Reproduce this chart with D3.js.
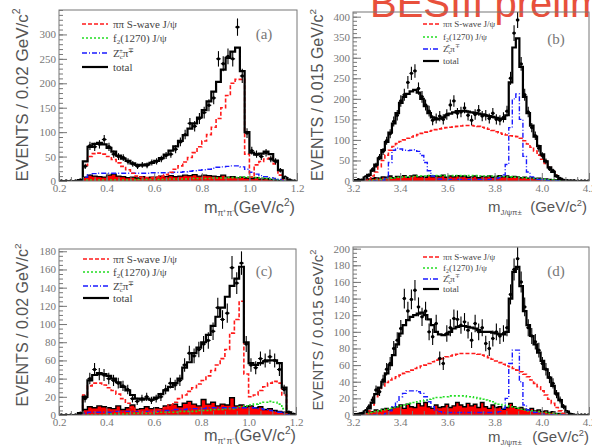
<!DOCTYPE html>
<html>
<head>
<meta charset="utf-8">
<script src="https://cdn.jsdelivr.net/npm/d3@7"></script>
<style>
  html, body { margin: 0; padding: 0; background: #fff; }
  svg { display: block; }
</style>
</head>
<body>
<svg id="chart" width="592" height="448"></svg>
<script>
// ---- binning ----
const pipiStart = 0.2, pipiWidth = 0.02;     // m(pi+pi-) histograms, 0.02 GeV bins
const jpsiStart = 3.2, jpsiWidth = 0.015;    // m(J/psi pi) histograms, 0.015 GeV bins

// ---- tick labels ----
const pipiTicks = [0.2, 0.4, 0.6, 0.8, 1.0, 1.2];
const jpsiTicks = [3.2, 3.4, 3.6, 3.8, 4.0, 4.2];
const yTicksA = [0, 50, 100, 150, 200, 250, 300];
const yTicksB = [0, 50, 100, 150, 200, 250, 300, 350, 400];
const yTicksC = [0, 20, 40, 60, 80, 100, 120, 140, 160, 180];
const yTicksD = [0, 20, 40, 60, 80, 100, 120, 140, 160, 180, 200];

// ---- legend entries ----
const legendNames = ["ππ S-wave J/ψ", "f₂(1270) J/ψ", "Zc±π∓", "total"];

// ---- panel (a): m(pi+pi-) ----
const aData  = [0,0,0,0,2,30,72,70,75,85,70,55,50,48,40,35,30,33,32,38,40,45,52,55,65,80,95,118,112,128,140,155,170,250,240,255,250,315,215,98,62,55,50,58,45,40,22,8,2,0];
const aTotal = [0,0,0,0,2,40,70,76,78,75,68,60,52,46,41,36,33,32,34,37,41,47,54,62,71,82,94,107,118,130,145,163,183,203,228,252,265,273,225,100,58,54,56,60,55,42,22,6,1,0];
const aSwave = [0,0,0,0,0,32,50,56,57,55,50,44,37,30,23,16,10,8,7,7,8,10,13,18,24,31,39,48,58,70,82,95,110,128,150,175,200,208,208,55,8,33,40,45,47,35,12,3,0,0];
const aF2    = [0,0,0,0,0,2,2,2,2,2,2,2,2,2,2,2,3,3,3,3,3,3,3,4,4,4,4,4,5,5,5,5,6,6,6,7,7,7,8,8,8,7,6,5,4,3,2,1,0,0];
const aZc    = [0,0,0,0,1,8,13,15,16,16,16,16,16,16,16,16,16,16,16,17,17,17,17,17,18,18,19,20,21,22,23,24,26,28,29,30,31,31,29,24,18,14,11,9,7,5,3,1,0,0];
const aBkg   = [0,0,0,0,0,8,12,10,9,8,12,14,10,9,7,8,6,9,7,8,8,10,9,11,9,10,12,11,13,10,12,11,10,9,12,8,9,7,8,6,5,7,4,5,3,2,1,0,0,0];

// ---- panel (b): m(J/psi pi) ----
const bData  = [1,3,2,10,14,28,38,58,72,98,115,145,160,195,210,240,262,268,225,205,185,170,148,152,158,150,162,185,195,165,168,178,160,148,162,172,158,160,152,165,150,148,155,170,250,360,392,285,210,168,130,110,80,62,48,30,25,12,6,2,1,0,1,0,0,0,0];
const bTotal = [2,2,3,8,15,25,40,55,75,95,118,140,165,190,205,212,218,222,215,200,182,165,155,150,152,155,160,164,167,170,170,171,169,167,166,164,162,160,158,156,154,152,151,160,240,325,347,278,205,165,135,108,85,65,48,33,22,12,5,2,1,1,0,0,0,0,0];
const bSwave = [0,0,0,1,5,12,22,35,50,63,75,84,91,96,100,104,107,110,113,116,119,121,123,125,127,129,130,131,132,133,134,135,135,135,134,133,131,129,126,123,120,117,114,112,110,109,108,104,98,90,82,73,63,53,43,33,23,14,7,2,0,0,0,0,0,0,0];
const bF2    = [0,0,0,0,1,2,3,4,5,6,7,8,9,9,10,10,11,11,12,12,12,13,13,13,13,13,13,13,13,13,13,13,13,13,13,12,12,12,12,12,11,11,11,10,10,9,9,8,8,7,7,6,5,5,4,3,3,2,1,0,0,0,0,0,0,0,0];
const bZc    = [0,0,0,0,0,0,0,0,2,8,45,75,80,78,75,74,75,76,72,62,45,25,12,7,5,4,4,4,4,4,4,4,4,4,4,4,4,4,4,5,6,8,15,40,130,200,212,150,60,22,10,6,4,3,2,1,0,0,0,0,0,0,0,0,0,0,0];
const bBkg   = [1,1,2,3,5,6,8,7,10,9,12,8,11,10,13,9,12,14,10,11,9,13,10,12,11,14,9,12,10,13,11,12,9,10,12,8,11,10,12,9,11,13,10,12,9,11,10,8,9,7,8,6,7,5,5,4,3,3,2,1,1,0,0,0,0,0,0];

// ---- panel (c): m(pi+pi-) ----
const cData  = [0,0,0,0,2,18,40,50,45,44,40,38,35,32,28,18,15,18,20,16,18,20,28,35,33,38,55,68,65,72,78,82,92,118,105,112,162,145,167,78,55,52,62,60,64,60,50,28,3,1];
const cTotal = [0,0,0,0,2,20,38,44,46,45,43,40,36,31,27,22,18,17,18,17,19,23,27,31,35,40,52,58,68,74,80,88,98,108,118,130,142,150,163,80,57,55,57,59,60,60,57,30,3,1];
const cSwave = [0,0,0,0,0,22,32,35,35,33,30,27,23,18,13,8,5,3,3,3,4,6,8,11,14,18,22,26,30,34,38,43,49,55,62,72,90,105,125,45,20,22,27,31,35,37,35,22,2,0];
const cF2    = [0,0,0,0,0,0,0,0,0,0,1,1,1,1,1,2,2,2,2,2,3,3,3,3,3,4,4,4,4,5,5,5,6,6,6,7,7,8,9,10,11,12,13,14,15,14,12,7,2,0];
const cZc    = [0,0,0,0,0,2,3,3,3,3,3,4,4,4,4,4,4,4,4,4,4,5,5,5,6,6,6,7,7,7,7,8,8,8,8,8,8,8,8,8,8,8,7,6,5,4,3,2,1,0];
const cBkg   = [0,0,0,0,0,6,9,8,10,9,8,7,10,6,8,11,6,7,9,7,8,7,10,11,12,9,13,15,12,10,17,12,14,10,12,11,19,10,11,9,10,8,9,6,7,5,4,3,1,0];

// ---- panel (d): m(J/psi pi) ----
const dData  = [0,1,2,5,10,18,30,28,42,55,62,80,90,104,140,125,139,150,130,118,125,100,94,110,68,62,98,105,116,115,108,112,102,90,110,100,105,86,80,92,100,95,98,105,145,175,188,160,130,105,95,88,78,62,55,45,38,25,18,10,4,1,0,0,0,0,0];
const dTotal = [1,1,2,4,8,15,25,33,40,50,60,72,85,98,108,114,118,120,122,123,120,115,108,100,97,96,97,100,104,106,107,107,106,105,104,102,100,100,100,99,98,97,97,100,140,172,178,155,125,108,95,85,75,65,55,45,35,26,18,10,4,1,0,0,0,0,0];
const dSwave = [0,0,0,1,5,12,22,30,35,39,42,44,46,48,50,52,54,56,57,59,60,62,64,66,67,68,70,71,72,73,74,74,74,74,74,73,72,71,69,67,65,63,61,59,58,56,54,52,49,46,42,38,34,29,24,19,14,9,5,2,0,0,0,0,0,0,0];
const dF2    = [0,0,0,1,2,3,4,5,6,7,8,9,10,11,12,13,14,15,16,17,18,19,20,21,21,22,22,23,23,23,23,23,22,22,21,20,19,18,17,16,14,13,12,11,10,9,8,7,6,5,5,4,4,3,3,2,2,1,1,0,0,0,0,0,0,0,0];
const dZc    = [0,0,0,0,0,0,0,0,0,2,5,10,16,22,26,29,29,29,28,26,22,16,10,6,4,3,3,3,3,3,3,3,3,3,3,3,3,3,3,3,3,4,8,20,62,78,78,40,12,6,4,3,2,1,0,0,0,0,0,0,0,0,0,0,0,0,0];
const dBkg   = [0,1,2,3,4,4,6,5,7,8,6,9,10,12,8,13,10,9,14,11,15,10,8,12,9,10,13,9,11,15,12,10,14,11,13,9,15,10,8,12,9,10,7,9,14,10,8,9,7,6,8,5,6,4,5,3,4,2,2,1,0,0,0,0,0,0,0];

// ---- panel layout ----
const panels = [
  { id: "(a)", x0: 59, x1: 297, y0: 10, y1: 181, xDom: [0.2, 1.2], yMax: 350, start: pipiStart, width: pipiWidth,
    xTicks: pipiTicks, yTicks: yTicksA, yMinor: 10, xMinor: 0.05,
    data: aData, total: aTotal, swave: aSwave, f2: aF2, zc: aZc, bkg: aBkg,
    yLabel: "EVENTS / 0.02 GeV/c", yLabelX: 28, yLabelY: 95, yLabelSize: 17,
    xSub: "π⁺π⁻", xLabelX: 204, xUnitEnd: 295, xLabelY: 213, xLabelSize: 16.3,
    tag: { x: 264, y: 39 }, legend: { x: 82, len: 26, tx: 113, rows: [24, 38, 53, 67], size: 11 } },
  { id: "(b)", x0: 353, x1: 589, y0: 12, y1: 181, xDom: [3.2, 4.2], yMax: 411.4, start: jpsiStart, width: jpsiWidth,
    xTicks: jpsiTicks, yTicks: yTicksB, yMinor: 10, xMinor: 0.05,
    data: bData, total: bTotal, swave: bSwave, f2: bF2, zc: bZc, bkg: bBkg,
    yLabel: "EVENTS / 0.015 GeV/c", yLabelX: 323, yLabelY: 95, yLabelSize: 16,
    xSub: "J/ψπ±", xLabelX: 488, xUnitEnd: 587, xLabelY: 212, xLabelSize: 15,
    tag: { x: 556, y: 44 }, legend: { x: 423, len: 16, tx: 443, rows: [24, 37, 49, 61], size: 9 } },
  { id: "(c)", x0: 59, x1: 296, y0: 249, y1: 415, xDom: [0.2, 1.2], yMax: 182.5, start: pipiStart, width: pipiWidth,
    xTicks: pipiTicks, yTicks: yTicksC, yMinor: 5, xMinor: 0.05,
    data: cData, total: cTotal, swave: cSwave, f2: cF2, zc: cZc, bkg: cBkg,
    yLabel: "EVENTS / 0.02 GeV/c", yLabelX: 28, yLabelY: 325, yLabelSize: 16,
    xSub: "π⁺π⁻", xLabelX: 204, xUnitEnd: 296, xLabelY: 441, xLabelSize: 16.3,
    tag: { x: 264, y: 276 }, legend: { x: 83, len: 26, tx: 113, rows: [259, 272, 286, 298], size: 11 } },
  { id: "(d)", x0: 353, x1: 589, y0: 247, y1: 415, xDom: [3.2, 4.2], yMax: 202, start: jpsiStart, width: jpsiWidth,
    xTicks: jpsiTicks, yTicks: yTicksD, yMinor: 5, xMinor: 0.05,
    data: dData, total: dTotal, swave: dSwave, f2: dF2, zc: dZc, bkg: dBkg,
    yLabel: "EVENTS / 0.015 GeV/c", yLabelX: 323, yLabelY: 330, yLabelSize: 15,
    xSub: "J/ψπ±", xLabelX: 488, xUnitEnd: 589, xLabelY: 442, xLabelSize: 15,
    tag: { x: 556, y: 276 }, legend: { x: 423, len: 16, tx: 443, rows: [257, 268, 279, 289], size: 9 } }
];

const styles = {
  swave: { stroke: "#ff1a1a", width: 1.6, dash: "4,2" },
  f2:    { stroke: "#22dd22", width: 1.6, dash: "2,2" },
  zc:    { stroke: "#1a1aff", width: 1.4, dash: "5,2,1,2" },
  total: { stroke: "#000", width: 2.2, dash: null }
};

const svg = d3.select("#chart");
const axisGrey = "#777";

// big red banner, clipped by the top of the page
svg.append("text")
  .attr("x", 370).attr("y", 17)
  .attr("font-family", "'Liberation Sans', Arial, sans-serif")
  .attr("font-size", 40)
  .attr("fill", "#e8503c")
  .text("BESIII preliminary");

panels.forEach((p, pi) => {
  const x = d3.scaleLinear().domain(p.xDom).range([p.x0, p.x1]);
  const y = d3.scaleLinear().domain([0, p.yMax]).range([p.y1, p.y0]);
  const g = svg.append("g");

  const clipId = "clip" + pi;
  svg.append("clipPath").attr("id", clipId)
    .append("rect").attr("x", p.x0).attr("y", p.y0).attr("width", p.x1 - p.x0).attr("height", p.y1 - p.y0);

  const plot = g.append("g").attr("clip-path", `url(#${clipId})`);

  // histogram helpers
  const edges = vals => {
    const pts = vals.map((v, i) => [p.start + i * p.width, v]);
    pts.push([p.start + vals.length * p.width, vals[vals.length - 1]]);
    return pts;
  };
  const stepLine = d3.line().x(d => x(d[0])).y(d => y(d[1])).curve(d3.curveStepAfter);
  const stepArea = d3.area().x(d => x(d[0])).y0(y(0)).y1(d => y(d[1])).curve(d3.curveStepAfter);

  // background: red filled histogram with black outline
  plot.append("path").attr("d", stepArea(edges(p.bkg))).attr("fill", "#ff0000");
  plot.append("path").attr("d", stepLine(edges(p.bkg))).attr("fill", "none").attr("stroke", "#000").attr("stroke-width", 1.4);

  // fit components
  ["f2", "zc", "swave", "total"].forEach(k => {
    const s = styles[k];
    plot.append("path")
      .attr("d", stepLine(edges(p[k])))
      .attr("fill", "none")
      .attr("stroke", s.stroke)
      .attr("stroke-width", s.width)
      .attr("stroke-dasharray", s.dash);
  });

  // data points with Poisson error bars
  const pts = plot.append("g");
  p.data.forEach((n, i) => {
    const cx = x(p.start + (i + 0.5) * p.width);
    const err = Math.sqrt(n);
    pts.append("line").attr("x1", cx).attr("x2", cx).attr("y1", y(n - err)).attr("y2", y(n + err))
      .attr("stroke", "#000").attr("stroke-width", 1.1);
    pts.append("line").attr("x1", x(p.start + i * p.width)).attr("x2", x(p.start + (i + 1) * p.width))
      .attr("y1", y(n)).attr("y2", y(n)).attr("stroke", "#000").attr("stroke-width", 1);
    pts.append("circle").attr("cx", cx).attr("cy", y(n)).attr("r", 1.7).attr("fill", "#000");
  });

  // frame
  g.append("rect").attr("x", p.x0).attr("y", p.y0).attr("width", p.x1 - p.x0).attr("height", p.y1 - p.y0)
    .attr("fill", "none").attr("stroke", axisGrey).attr("stroke-width", 1);

  // axes: ticks point into the frame
  const yMinorVals = d3.range(0, p.yMax + 1e-9, p.yMinor);
  const xMinorVals = d3.range(p.xDom[0], p.xDom[1] + 1e-9, p.xMinor);

  g.append("g").attr("transform", `translate(${p.x0},0)`)
    .call(d3.axisLeft(y).tickValues(p.yTicks).tickSizeInner(-8).tickSizeOuter(0).tickPadding(3).tickFormat(d3.format("d")));
  g.append("g").attr("transform", `translate(${p.x0},0)`)
    .call(d3.axisLeft(y).tickValues(yMinorVals).tickSizeInner(-4).tickSizeOuter(0).tickFormat(""));
  g.append("g").attr("transform", `translate(0,${p.y1})`)
    .call(d3.axisBottom(x).tickValues(p.xTicks).tickSizeInner(-8).tickSizeOuter(0).tickPadding(3).tickFormat(d3.format(".1f")));
  g.append("g").attr("transform", `translate(0,${p.y1})`)
    .call(d3.axisBottom(x).tickValues(xMinorVals).tickSizeInner(-4).tickSizeOuter(0).tickFormat(""));

  g.selectAll(".domain").remove();
  g.selectAll(".tick line").attr("stroke", axisGrey);
  g.selectAll(".tick text")
    .attr("font-family", "'Liberation Serif', 'Times New Roman', serif")
    .attr("font-size", 11).attr("fill", "#777");

  // axis titles
  const yt = g.append("text")
    .attr("transform", `translate(${p.yLabelX},${p.yLabelY}) rotate(-90)`)
    .attr("text-anchor", "middle")
    .attr("font-family", "'Liberation Sans', Arial, sans-serif")
    .attr("font-size", p.yLabelSize).attr("fill", "#555");
  yt.append("tspan").text(p.yLabel);
  yt.append("tspan").attr("font-size", p.yLabelSize * 0.62).attr("dy", -p.yLabelSize * 0.45).text("2");

  const fs = p.xLabelSize;
  const xm = g.append("text")
    .attr("x", p.xLabelX).attr("y", p.xLabelY)
    .attr("font-family", "'Liberation Sans', Arial, sans-serif")
    .attr("font-size", fs).attr("fill", "#555");
  xm.append("tspan").text("m");
  xm.append("tspan").attr("font-size", fs * 0.52).attr("dy", 3).text(p.xSub);

  const xu = g.append("text")
    .attr("x", p.xUnitEnd).attr("y", p.xLabelY).attr("text-anchor", "end")
    .attr("font-family", "'Liberation Sans', Arial, sans-serif")
    .attr("font-size", fs).attr("fill", "#555");
  xu.append("tspan").text("(GeV/c");
  xu.append("tspan").attr("font-size", fs * 0.62).attr("dy", -fs * 0.42).text("2");
  xu.append("tspan").attr("dy", fs * 0.42).text(")");

  // panel tag
  g.append("text").attr("x", p.tag.x).attr("y", p.tag.y).attr("text-anchor", "middle")
    .attr("font-family", "'Liberation Serif', 'Times New Roman', serif")
    .attr("font-size", 15).attr("fill", "#777").text(p.id);

  // legend
  const keys = ["swave", "f2", "zc", "total"];
  keys.forEach((k, i) => {
    const s = styles[k];
    const ly = p.legend.rows[i];
    g.append("line").attr("x1", p.legend.x).attr("x2", p.legend.x + p.legend.len)
      .attr("y1", ly).attr("y2", ly)
      .attr("stroke", s.stroke).attr("stroke-width", k === "total" ? 2.2 : 1.6)
      .attr("stroke-dasharray", s.dash);
    const t = g.append("text").attr("x", p.legend.tx).attr("y", ly + p.legend.size * 0.35)
      .attr("font-family", "'Liberation Serif', 'Times New Roman', serif")
      .attr("font-size", p.legend.size).attr("fill", "#444");
    if (k === "zc") {
      t.append("tspan").text("Z");
      t.append("tspan").attr("font-size", p.legend.size * 0.65).attr("dy", 2).text("c");
      t.append("tspan").attr("font-size", p.legend.size * 0.65).attr("dx", -4).attr("dy", -6).text("±");
      t.append("tspan").attr("dy", 4).text("π");
      t.append("tspan").attr("font-size", p.legend.size * 0.65).attr("dy", -4).text("∓");
    } else if (k === "f2") {
      t.append("tspan").text("f");
      t.append("tspan").attr("font-size", p.legend.size * 0.65).attr("dy", 2).text("2");
      t.append("tspan").attr("dy", -2).text("(1270) J/ψ");
    } else {
      t.text(legendNames[i]);
    }
  });
});
</script>
</body>
</html>
